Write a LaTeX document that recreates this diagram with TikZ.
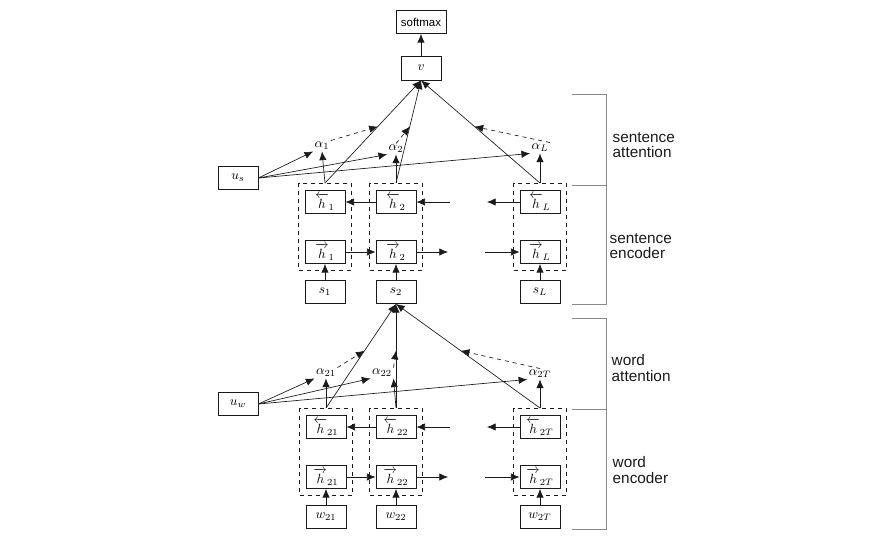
\documentclass[tikz,border=0pt]{standalone}
\usepackage{amsmath,amssymb}
\usepackage{fontspec}
\usepackage{xcolor}
\usepackage{tikz}
\usetikzlibrary{arrows.meta,positioning,calc,fit}
\newfontfamily\hanfont{Liberation Sans}
\definecolor{hanblack}{HTML}{1A1A1A}
\definecolor{hangray}{HTML}{8A8A8A}

\begin{document}
\begin{tikzpicture}[
    x=0.75pt,y=-0.75pt,
    cell/.style = {rectangle,draw=hanblack,line width=0.6pt,minimum width=30pt,
                   minimum height=17.25pt,inner sep=1pt,font=\normalsize},
    grp/.style  = {rectangle,draw=hanblack,dashed,line width=0.6pt,
                   inner xsep=4.5pt,inner ysep=5pt},
    wt/.style   = {inner sep=1pt,font=\normalsize},
    fl/.style   = {-{Latex[length=6.5pt,width=5.5pt]},hanblack,line width=0.5pt},
    dfl/.style  = {fl,dashed},
    brk/.style  = {hangray,line width=0.7pt},
    tag/.style  = {font=\hanfont\fontsize{11.5}{11.5}\selectfont,text=hanblack,
                   align=left,anchor=west},
  ]
  \useasboundingbox (0,0) rectangle (872,546);

  % sentence level
  \node[cell,minimum width=37.5pt,font=\hanfont\fontsize{8.6}{10}\selectfont] (sm) at (421,22) {softmax};
  \node[cell,minimum height=18pt] (v) at (421,68) {$v$};
  \node[cell] (us) at (238,178) {$u_s$};

  \foreach \n/\x/\ax/\ay in {1/325/322/146,2/396/396/149,L/540/540/148}{
    \node[cell] (hb\n) at (\x,202) {$\overleftarrow{h}_{\n}$};
    \node[cell] (hf\n) at (\x,252) {$\overrightarrow{h}_{\n}$};
    \node[cell] (s\n)  at (\x,292) {$s_{\n}$};
    \node[grp,fit=(hb\n)(hf\n)] (g\n) {};
    \node[wt] (a\n) at (\ax,\ay) {$\alpha_{\n}$};
  }

  \coordinate (sbin)  at (450,202);
  \coordinate (sbout) at (487,202);
  \coordinate (sfout) at (448,252);
  \coordinate (sfin)  at (485,252);
  \draw[fl] (sbin) -- (hb2);
  \draw[fl] (hb2) -- (hb1);
  \draw[fl] (hbL) -- (sbout);
  \draw[fl] (hf1) -- (hf2);
  \draw[fl] (hf2) -- (sfout);
  \draw[fl] (sfin) -- (hfL);

  \foreach \n in {1,2,L}{
    \draw[fl] (s\n) -- (hf\n);
    \draw[fl] (g\n.north) -- coordinate[pos=0.55] (m\n) (v.south);
    \draw[fl] (g\n.north) -- (a\n.south);
    \draw[fl] (us.east) -- (a\n.south west);
  }
  \draw[dfl] (a1.north east) -- (m1);
  \draw[dfl] (a2.north) -- (m2);
  \draw[dfl] (aL.north east) -- (mL);
  \draw[fl] (v) -- (sm);

  % word level
  \node[cell] (uw) at (238,404) {$u_w$};

  \foreach \n/\x/\ax/\ay in {21/326/326/373,22/396/382/373,2T/540/540/374}{
    \node[cell] (hb\n) at (\x,427) {$\overleftarrow{h}_{\n}$};
    \node[cell] (hf\n) at (\x,477) {$\overrightarrow{h}_{\n}$};
    \node[cell] (w\n)  at (\x,517) {$w_{\n}$};
    \node[grp,fit=(hb\n)(hf\n)] (g\n) {};
    \node[wt] (a\n) at (\ax,\ay) {$\alpha_{\n}$};
  }

  \coordinate (wbin)  at (450,427);
  \coordinate (wbout) at (487,427);
  \coordinate (wfout) at (448,477);
  \coordinate (wfin)  at (485,477);
  \draw[fl] (wbin) -- (hb22);
  \draw[fl] (hb22) -- (hb21);
  \draw[fl] (hb2T) -- (wbout);
  \draw[fl] (hf21) -- (hf22);
  \draw[fl] (hf22) -- (wfout);
  \draw[fl] (wfin) -- (hf2T);

  \foreach \n in {21,22,2T}{
    \draw[fl] (w\n) -- (hf\n);
    \draw[fl] (g\n.north) -- coordinate[pos=0.55] (m\n) (s2.south);
    \draw[fl] (uw.east) -- (a\n.south west);
  }
  \draw[fl] (g21.north) -- (a21.south);
  \draw[fl] (g22.north) -- (a22.south east);
  \draw[fl] (g2T.north) -- (a2T.south);
  \draw[dfl] (a21.north east) -- (m21);
  \draw[dfl] (a22.north east) -- (m22);
  \draw[dfl] (a2T.north) -- (m2T);

  % brackets
  \draw[brk] (572,94) -- (606,94) -- (606,304) -- (572,304);
  \draw[brk] (572,185) -- (606,185);
  \draw[brk] (572,318) -- (606,318) -- (606,529) -- (572,529);
  \draw[brk] (572,409) -- (606,409);

  \node[tag] (lsa) at (608,145) {sentence\\attention};
  \node[tag] (lse) at (605,246) {sentence\\encoder};
  \node[tag] (lwa) at (607,368) {word\\attention};
  \node[tag] (lwe) at (608,470) {word\\encoder};

\end{tikzpicture}
\end{document}
